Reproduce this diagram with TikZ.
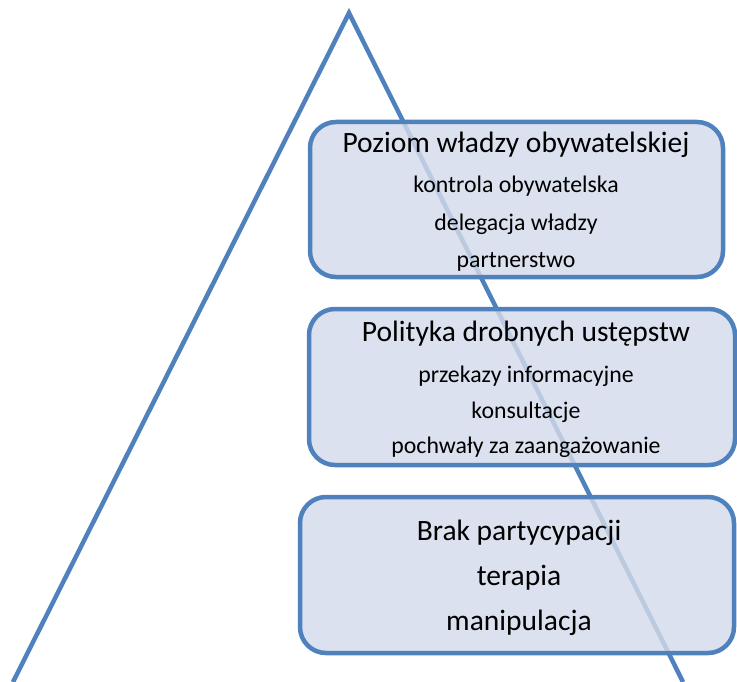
\documentclass[tikz,border=0pt]{standalone}
\usepackage{fontspec}
\setmainfont{Carlito}
\definecolor{edgeblue}{RGB}{79,129,189}
\definecolor{boxfill}{RGB}{211,219,234}
\tikzset{
  level/.style={draw=edgeblue, line width=4.5pt, rounded corners=26pt, fill=boxfill, fill opacity=0.82, draw opacity=1},
  bigtxt/.style={anchor=base, inner sep=0pt, font=\fontsize{29.5}{32}\selectfont, text opacity=1},
  smalltxt/.style={anchor=base, inner sep=0pt, font=\fontsize{23.8}{26}\selectfont, text opacity=1},
}
\begin{document}
\begin{tikzpicture}[x=1pt,y=-1pt]
\useasboundingbox (0,0) rectangle (737,682);
% pyramid
\coordinate (bl) at (13,682);
\coordinate (apex) at (349,13);
\coordinate (br) at (683,682);
\draw[edgeblue, line width=4.5pt, line join=miter] (bl) -- (apex) -- (br);
% boxes
\draw[level] (310,122) rectangle (723,277);
\draw[level] (309,309) rectangle (735,465);
\draw[level] (300,497) rectangle (734,653);
% box 1
\node[bigtxt] (t1) at (516,153) {Poziom władzy obywatelskiej};
\node[smalltxt] (t1a) at (516,193) {kontrola obywatelska};
\node[smalltxt] (t1b) at (516,231) {delegacja władzy};
\node[smalltxt] (t1c) at (516,267) {partnerstwo};
% box 2
\node[bigtxt] (t2) at (526,341) {Polityka drobnych ustępstw};
\node[smalltxt] (t2a) at (526,382) {przekazy informacyjne};
\node[smalltxt] (t2b) at (526,418) {konsultacje};
\node[smalltxt] (t2c) at (526,453) {pochwały za zaangażowanie};
% box 3
\node[bigtxt] (t3) at (519,540) {Brak partycypacji};
\node[bigtxt] (t3a) at (519,585) {terapia};
\node[bigtxt] (t3b) at (519,630) {manipulacja};
\end{tikzpicture}
\end{document}
